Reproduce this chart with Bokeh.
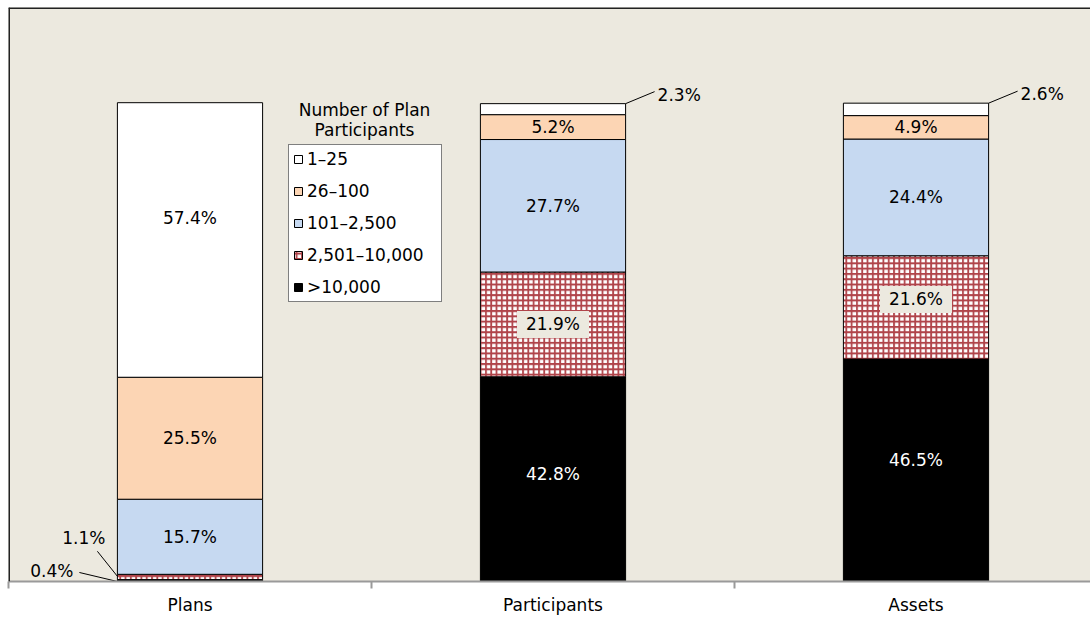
import numpy as np
from bokeh.plotting import figure
from bokeh.models import (Range1d, FixedTicker, ColumnDataSource, LabelSet, Label,
                          Legend, LegendItem, Span)
from bokeh.core.properties import value
from bokeh.embed import file_html
from bokeh.resources import INLINE

# ---------------- data ----------------
categories = ["Plans", "Participants", "Assets"]
series_names = ["1–25", "26–100", "101–2,500", "2,501–10,000", ">10,000"]
s_1_25 = [57.4, 2.3, 2.6]
s_26_100 = [25.5, 5.2, 4.9]
s_101_2500 = [15.7, 27.7, 24.4]
s_2501_10000 = [1.1, 21.9, 21.6]
s_gt_10000 = [0.4, 42.8, 46.5]
legend_title = ["Number of Plan", "Participants"]

# ---------------- styles ----------------
FONT = "DejaVu Sans"
FS = "17px"
BG = "#ECE9DF"
colors = {"1–25": "#FFFFFF", "26–100": "#FCD5B4", "101–2,500": "#C6D9F1",
          "2,501–10,000": "#FFFFFF", ">10,000": "#000000"}

W, H = 1090, 617
LEFT, TOP = 8, 7
PX_X = 363.0                       # pixels per x unit
XMAX = (W - LEFT) / PX_X
YMAX = 1.2
PX_Y = 478.0                       # pixels per y unit (approx)

p = figure(width=W, height=H, output_backend="svg", toolbar_location=None,
           x_range=Range1d(0, XMAX), y_range=Range1d(0, YMAX),
           min_border_left=LEFT, min_border_right=0, min_border_top=TOP,
           min_border_bottom=0)
p.background_fill_color = BG
p.border_fill_color = "white"
p.outline_line_color = None
p.grid.visible = False
p.yaxis.visible = False

xc = np.arange(len(categories)) + 0.5
stack_order = [(">10,000", s_gt_10000), ("2,501–10,000", s_2501_10000),
               ("101–2,500", s_101_2500), ("26–100", s_26_100), ("1–25", s_1_25)]
bottom = np.zeros(len(categories))
renderers = {}
segs = {}
for name, vals in stack_order:
    v = np.array(vals) / 100.0
    top = bottom + v
    kw = dict(x=xc, width=0.4, bottom=bottom, top=top, fill_color=colors[name],
              line_color="black", line_width=1)
    if name == "2,501–10,000":
        kw.update(hatch_pattern="+", hatch_color="#B0444A", hatch_scale=5.3,
                  hatch_weight=1.8)
    r = p.vbar(**kw)
    renderers[name] = r
    segs[name] = (bottom.copy(), top.copy(), vals)
    bottom = top

# ---------------- inside labels ----------------
plain_x, plain_y, plain_t, plain_c = [], [], [], []
box_x, box_y, box_t = [], [], []
outside = []
for name, (b, t, vals) in segs.items():
    for i, val in enumerate(vals):
        mid = (b[i] + t[i]) / 2
        txt = f"{val:.1f}%"
        if val < 3:
            outside.append((name, i, b[i], t[i], txt))
            continue
        if name == "2,501–10,000":
            box_x.append(xc[i]); box_y.append(mid + (8 / PX_Y if i == 2 else 0)); box_t.append(txt)
        else:
            adj = 0.0
            if name == "1–25" and i == 0:
                adj = 22 / PX_Y
            if name == ">10,000" and i == 2:
                adj = 10 / PX_Y
            if name == ">10,000" and i == 1:
                adj = 5 / PX_Y
            plain_x.append(xc[i]); plain_y.append(mid + adj); plain_t.append(txt)
            plain_c.append("white" if name == ">10,000" else "black")

src_plain = ColumnDataSource(dict(x=plain_x, y=plain_y, t=plain_t, c=plain_c))
p.add_layout(LabelSet(x="x", y="y", text="t", source=src_plain, text_color="c",
                      text_align="center", text_baseline="middle",
                      text_font=value(FONT), text_font_size=value(FS)))
src_box = ColumnDataSource(dict(x=box_x, y=box_y, t=box_t))
p.rect(x="x", y="y", width=72, height=27, width_units="screen", height_units="screen",
       source=src_box, fill_color=BG, line_color=None)
p.add_layout(LabelSet(x="x", y="y", text="t", source=src_box, text_color="black",
                      text_align="center", text_baseline="middle",
                      text_font=value(FONT), text_font_size=value(FS)))

# ---------------- outside labels with leader lines ----------------
lx0, ly0, lx1, ly1 = [], [], [], []
for name, i, b, t, txt in outside:
    if name == "1–25":
        ax, ay = xc[i] + 0.2, t
        ex, ey = ax + 29 / PX_X, ay + 12 / PX_Y
        p.add_layout(Label(x=ex + 3 / PX_X, y=ey - 3 / PX_Y, text=txt, text_align="left",
                           text_baseline="middle", text_font=FONT, text_font_size=FS,
                           text_color="black"))
    elif name == "2,501–10,000":
        ax, ay = xc[i] - 0.2, t - 2 / PX_Y
        ex, ey = ax - 20 / PX_X, ay + 25 / PX_Y
        p.add_layout(Label(x=ex + 8 / PX_X, y=ey + 13 / PX_Y, text=txt, text_align="right",
                           text_baseline="middle", text_font=FONT, text_font_size=FS,
                           text_color="black"))
    else:
        ax, ay = xc[i] - 0.2, b
        ex, ey = ax - 38 / PX_X, ay + 9 / PX_Y
        p.add_layout(Label(x=ex - 6 / PX_X, y=ey + 1 / PX_Y, text=txt, text_align="right",
                           text_baseline="middle", text_font=FONT, text_font_size=FS,
                           text_color="black"))
    lx0.append(ax); ly0.append(ay); lx1.append(ex); ly1.append(ey)
p.segment(x0=lx0, y0=ly0, x1=lx1, y1=ly1, line_color="black", line_width=1)

# ---------------- legend ----------------
items = [LegendItem(label=n, renderers=[renderers[n]]) for n in series_names]
legend = Legend(items=items, location=(280, 279), orientation="vertical",
                border_line_color="black", border_line_width=1,
                background_fill_color="white", background_fill_alpha=1,
                label_text_font=FONT, label_text_font_size=FS, label_text_color="black",
                glyph_width=10, glyph_height=10, label_height=20, label_width=130,
                spacing=12, padding=4, margin=0, label_standoff=4)
p.add_layout(legend, "center")

tx = (364 - LEFT) / PX_X
for k, line in enumerate(legend_title):
    p.add_layout(Label(x=tx, y=(581 - 110 - 20 * k) / PX_Y, text=line, text_align="center",
                       text_baseline="middle", text_font=FONT, text_font_size=FS,
                       text_color="black"))

# ---------------- frame lines ----------------
p.add_layout(Span(location=0, dimension="height", line_color="#222222", line_width=3))
p.add_layout(Span(location=YMAX, dimension="width", line_color="#222222", line_width=3))

# ---------------- x axis ----------------
ax_ = p.xaxis[0]
ax_.ticker = FixedTicker(ticks=list(xc), minor_ticks=list(range(len(categories) + 1)))
ax_.major_label_overrides = {float(x): c for x, c in zip(xc, categories)}
ax_.major_tick_out = 0
ax_.major_tick_in = 0
ax_.minor_tick_out = 7
ax_.minor_tick_in = 0
ax_.minor_tick_line_color = "#9A9A9A"
ax_.minor_tick_line_width = 2
ax_.axis_line_color = "#9A9A9A"
ax_.axis_line_width = 2
ax_.major_label_text_font = FONT
ax_.major_label_text_font_size = FS
ax_.major_label_text_color = "black"
ax_.major_label_standoff = 6

open("out.html", "w").write(file_html(p, INLINE))
